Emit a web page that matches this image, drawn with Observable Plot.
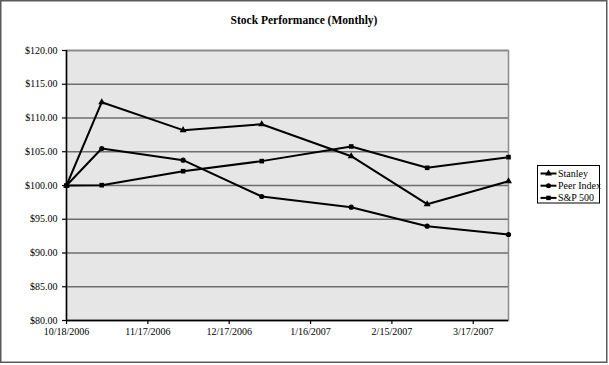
<!DOCTYPE html>
<html>
<head>
<meta charset="utf-8">
<script src="https://cdn.jsdelivr.net/npm/d3@7"></script>
<script src="https://cdn.jsdelivr.net/npm/@observablehq/plot@0.6"></script>
<style>
  body { margin: 0; background: #fff; }
  #chart svg { display: block; }
</style>
</head>
<body>
<div id="chart"></div>
<script>
// ---- data ----
const chartTitle = "Stock Performance (Monthly)";
const dates = ["2006-10-18", "2006-10-31", "2006-11-30", "2006-12-29", "2007-01-31", "2007-02-28", "2007-03-30"];
const seriesNames = ["Stanley", "Peer Index", "S&P 500"];
const stanley = [100.00, 112.34, 108.20, 109.08, 104.34, 97.23, 100.64];
const peerIndex = [100.00, 105.48, 103.75, 98.37, 96.79, 93.97, 92.74];
const sp500 = [100.00, 100.05, 102.12, 103.61, 105.78, 102.62, 104.20];
const yTicks = [80, 85, 90, 95, 100, 105, 110, 115, 120];
const xTickLabels = ["10/18/2006", "11/17/2006", "12/17/2006", "1/16/2007", "2/15/2007", "3/17/2007"];
const symbols = ["triangle", "circle", "square"];

// ---- build table ----
const seriesValues = [stanley, peerIndex, sp500];
const rows = [];
seriesNames.forEach((name, s) => {
  dates.forEach((d, i) => rows.push({ date: new Date(d), value: seriesValues[s][i], series: name }));
});
const parseLabel = d3.utcParse("%m/%d/%Y");
const xTicks = xTickLabels.map(parseLabel);
const fmtDate = d3.utcFormat("%-m/%-d/%Y");
const x0 = new Date(dates[0]);
const x1 = new Date(dates[dates.length - 1]);

const W = 609, H = 365;
const chart = Plot.plot({
  width: W,
  height: H,
  marginLeft: 66,
  marginRight: 101,
  marginTop: 50,
  marginBottom: 45,
  style: { fontFamily: "'Liberation Serif', 'Times New Roman', serif", fontSize: "10px", color: "#000", background: "transparent" },
  x: { type: "utc", domain: [x0, x1], ticks: xTicks, tickFormat: fmtDate, label: null },
  y: { domain: [80, 120], ticks: yTicks, tickFormat: d => "$" + d.toFixed(2), label: null },
  symbol: { domain: seriesNames, range: symbols },
  marks: [
    Plot.frame({ fill: "#e6e6e6", stroke: null }),
    Plot.gridY(yTicks, { stroke: "#6e6e6e", strokeOpacity: 1, strokeWidth: 1.5 }),
    Plot.frame({ stroke: "#8a8a8a", strokeWidth: 1.5 }),
    Plot.ruleX([x0], { stroke: "#000", strokeWidth: 1.5 }),
    Plot.ruleY([80], { stroke: "#000", strokeWidth: 1.5 }),
    Plot.axisY({ ticks: yTicks, tickSize: 4, tickPadding: 5, tickFormat: d => "$" + d.toFixed(2), stroke: "#000", strokeWidth: 1.2, fill: "#000", label: null }),
    Plot.axisX({ ticks: xTicks, tickSize: 4, tickPadding: 3, tickFormat: fmtDate, stroke: "#000", strokeWidth: 1.2, fill: "#000", label: null }),
    Plot.line(rows, { x: "date", y: "value", z: "series", stroke: "#000", strokeWidth: 2 }),
    Plot.dot(rows, { x: "date", y: "value", symbol: "series", fill: "#000", stroke: "none", r: 2.6 })
  ]
});

document.getElementById("chart").appendChild(chart);

// ---- decorations: outer border, title, legend ----
const svg = d3.select(chart);
svg.insert("rect", ":first-child")
  .attr("x", 0.75).attr("y", 0.75).attr("width", W - 3).attr("height", H - 3.5)
  .attr("fill", "#fff").attr("stroke", "#5a5a5a").attr("stroke-width", 1.5);

svg.append("text")
  .attr("x", 304).attr("y", 24)
  .attr("text-anchor", "middle")
  .attr("font-family", "'Liberation Serif', 'Times New Roman', serif")
  .attr("font-weight", "bold").attr("font-size", "11.5px").attr("fill", "#000")
  .text(chartTitle);

const lg = svg.append("g").attr("transform", "translate(537.5,165.5)");
lg.append("rect").attr("width", 62).attr("height", 37.5)
  .attr("fill", "#fff").attr("stroke", "#000").attr("stroke-width", 1);
seriesNames.forEach((name, i) => {
  const y = 8 + i * 12.2;
  const g = lg.append("g").attr("transform", `translate(0,${y})`);
  g.append("line").attr("x1", 3).attr("x2", 19).attr("y1", 0).attr("y2", 0)
    .attr("stroke", "#000").attr("stroke-width", 2);
  g.append("path").attr("transform", "translate(11,0)")
    .attr("d", d3.symbol(i === 0 ? d3.symbolTriangle : i === 1 ? d3.symbolCircle : d3.symbolSquare, 20)())
    .attr("fill", "#000");
  g.append("text").attr("x", 20.5).attr("y", 0).attr("dy", "0.35em")
    .attr("text-anchor", "start")
    .attr("font-family", "'Liberation Serif', 'Times New Roman', serif")
    .attr("font-size", "10px").attr("fill", "#000")
    .text(name);
});
</script>
</body>
</html>
